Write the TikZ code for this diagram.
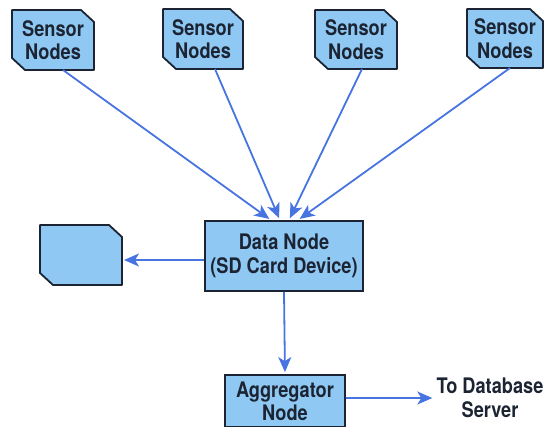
\documentclass[tikz,border=0pt]{standalone}
\usepackage{fontspec}
\setmainfont{TeX Gyre Heros}[FakeStretch=0.85]
\usetikzlibrary{arrows.meta,backgrounds}
\definecolor{cardblue}{HTML}{8FC9F3}
\definecolor{linkblue}{HTML}{4774E0}
\definecolor{edge}{HTML}{1C2433}
\begin{document}
\begin{tikzpicture}[x=1bp,y=-1bp,
  font=\fontsize{21.5}{23.5}\selectfont\bfseries, text=edge,
  card/.style={rectangle, align=center, inner sep=0pt, outer sep=0pt},
  cardline/.style={draw=edge, line width=1.8bp, fill=cardblue, line join=round},
  box/.style={rectangle, draw=edge, line width=1.8bp, fill=cardblue, align=center, inner sep=1bp},
  flow/.style={draw=linkblue, line width=1.8bp, shorten >=2bp,
    -{Stealth[length=15bp,width=13bp,inset=4bp]}}]
\useasboundingbox (0,0) rectangle (547,426);
% sensors along the top
\node[card, minimum width=82bp, minimum height=60bp] (s1) at (53,40) {Sensor\\Nodes};
\node[card, minimum width=80bp, minimum height=60bp] (s2) at (203,39) {Sensor\\Nodes};
\node[card, minimum width=82bp, minimum height=59bp] (s3) at (356,39.5) {Sensor\\Nodes};
\node[card, minimum width=76bp, minimum height=59bp] (s4) at (505,38.5) {Sensor\\Nodes};
% data node, card and aggregator
\node[box, minimum width=158bp, minimum height=70bp] (data) at (284,256) {Data Node\\(SD Card Device)};
\node[card, minimum width=82bp, minimum height=60bp] (sd) at (81,255) {};
\node[box, minimum width=120bp, minimum height=52bp] (agg) at (285,401) {Aggregator\\Node};
\node[align=center, inner sep=2bp] (db) at (490,398) {To Database\\Server};
% clipped card outlines behind the text
\begin{pgfonlayer}{background}
\foreach \n in {s1,s2,s3,s4,sd}
  \path[cardline] (\n.north west) -- ([xshift=-13bp]\n.north east)
    -- ([yshift=-12bp]\n.north east) -- (\n.south east)
    -- ([xshift=13bp]\n.south west) -- ([yshift=12bp]\n.south west) -- cycle;
\end{pgfonlayer}
\draw[flow] ([xshift=10bp]s1.south) -- ([xshift=-13bp]data.north);
\draw[flow] ([xshift=12bp]s2.south) -- ([xshift=-4bp]data.north);
\draw[flow] ([xshift=6bp]s3.south) -- ([xshift=5bp]data.north);
\draw[flow] ([xshift=5bp]s4.south) -- ([xshift=14bp]data.north);
\draw[flow] ([yshift=-4bp]data.west) -- ([yshift=-5bp]sd.east);
\draw[flow] (data.south) -- (agg.north);
\draw[flow] ([yshift=3bp]agg.east) -- (db.west);
\end{tikzpicture}
\end{document}
